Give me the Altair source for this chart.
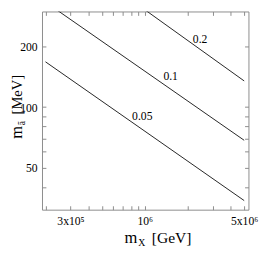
import altair as alt
import pandas as pd

FONT = "Liberation Serif"

# --- data ---
series = ["0.05", "0.1", "0.2"]
x_start = [2.0e5, 2.27e5, 9.1e5]
y_start = [168, 313, 320]
x_end = [5.0e6, 5.0e6, 5.0e6]
y_end = [34.3, 68.4, 135]

label_text = ["0.05", "0.1", "0.2"]
label_x = [9.6e5, 1.52e6, 2.45e6]
label_y = [90.2, 142, 219]

x_ticks = [2e5, 3e5, 4e5, 5e5, 6e5, 7e5, 8e5, 9e5, 1e6, 2e6, 3e6, 4e6, 5e6]
y_ticks = [40, 50, 60, 70, 80, 90, 100, 200]

x_domain = [1.89e5, 5.36e6]
y_domain = [30.9, 299]

rows = []
for s, xs, ys, xe, ye in zip(series, x_start, y_start, x_end, y_end):
    rows.append({"series": s, "mX": xs, "ma": ys})
    rows.append({"series": s, "mX": xe, "ma": ye})
lines_df = pd.DataFrame(rows)
labels_df = pd.DataFrame({"t": label_text, "mX": label_x, "ma": label_y})

xlab = ("(datum.value > 2.5e5 && datum.value < 3.5e5) ? '3x10⁵' : "
        "((datum.value > 9e5 && datum.value < 1.1e6) ? '10⁶' : "
        "(datum.value > 4.5e6 ? '5x10⁶' : ''))")
ylab = "(datum.value == 50 || datum.value == 100 || datum.value == 200) ? ('' + datum.value) : ''"

xscale = alt.Scale(type="log", domain=x_domain)
yscale = alt.Scale(type="log", domain=y_domain)

common = dict(tickSize=4, offset=-4, domain=False, grid=False, tickColor="#8a8a8a",
              title=None, labelFlush=False, labelOverlap=False)

lines = alt.Chart(lines_df).mark_line(color="#222222", strokeWidth=1, clip=True).encode(
    x=alt.X("mX:Q", scale=xscale,
            axis=alt.Axis(orient="bottom", values=x_ticks, labelExpr=xlab, labelPadding=6,
                          labelFont=FONT, labelFontSize=12, labelColor="black", **common)),
    y=alt.Y("ma:Q", scale=yscale,
            axis=alt.Axis(orient="left", values=y_ticks, labelExpr=ylab, labelPadding=5,
                          labelFont=FONT, labelFontSize=12, labelColor="black", **common)),
    detail="series:N",
)

labels = alt.Chart(labels_df).mark_text(font=FONT, fontSize=12, color="black",
                                        align="center", baseline="middle").encode(
    x=alt.X("mX:Q", scale=xscale,
            axis=alt.Axis(orient="top", values=x_ticks, labels=False, **common)),
    y=alt.Y("ma:Q", scale=yscale,
            axis=alt.Axis(orient="right", values=y_ticks, labels=False, **common)),
    text="t:N",
)


def txt(s, x, y, size, angle=0):
    return alt.Chart(pd.DataFrame({"t": [s]})).mark_text(
        text=s, font=FONT, fontSize=size, angle=angle, align="left",
        baseline="alphabetic", color="black").encode(x=alt.value(x), y=alt.value(y))


titles = [
    txt("m", 85, 238, 17),
    txt("X", 99, 241, 10),
    txt("[GeV]", 113, 238, 16),
    txt("m", -21, 131, 17, 270),
    txt("ã", -18, 117, 10, 270),
    txt("[MeV]", -21, 106, 15, 270),
]

chart = alt.layer(lines, labels, *titles).resolve_axis(
    x="independent", y="independent"
).properties(
    width=212.5, height=204,
    autosize=alt.AutoSizeParams(type="none"),
    padding={"left": 35, "top": 0, "right": 16, "bottom": 41},
).configure_view(stroke="#8a8a8a", strokeWidth=1)

chart.save("out.html", embed_options={"renderer": "svg", "actions": False})
